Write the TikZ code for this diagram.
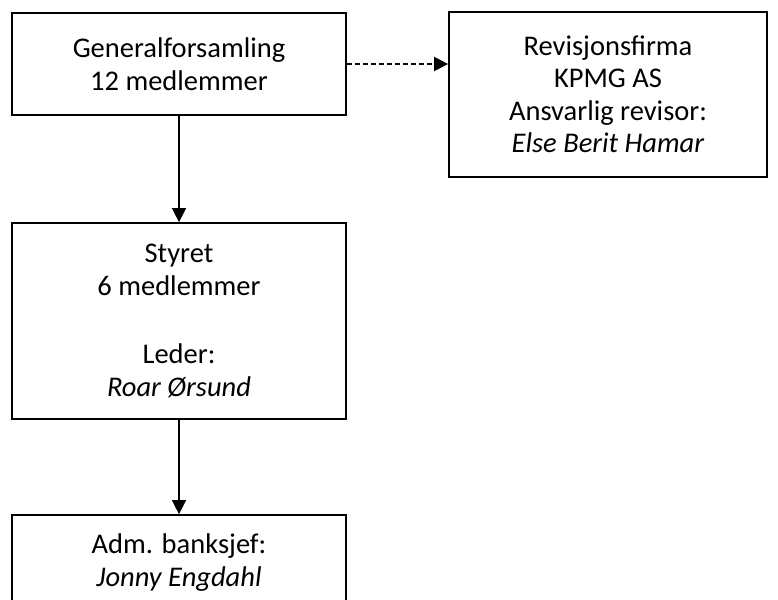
\documentclass[tikz,border=0pt]{standalone}
\usepackage{fontspec}
\setmainfont{Carlito}
\usetikzlibrary{arrows.meta}
\begin{document}
\begin{tikzpicture}[x=1pt,y=-1pt,
  box/.style={draw=black,line width=1.7pt,fill=white,align=center,inner sep=0pt,
    font=\fontsize{28.5}{32.5}\selectfont},
  conn/.style={line width=1.4pt,-{Triangle[length=14pt,width=14pt]}}]
\useasboundingbox (0,0) rectangle (778,599);
\node[box,minimum width=334pt,minimum height=102pt] (gen) at (179,64)
  {Generalforsamling\\12 medlemmer};
\node[box,minimum width=318pt,minimum height=165pt] (rev) at (608,94.5)
  {Revisjonsfirma\\KPMG AS\\Ansvarlig revisor:\\\textit{Else Berit Hamar}};
\node[box,minimum width=334pt,minimum height=196pt] (sty) at (179,321)
  {Styret\\6 medlemmer\\[36pt]Leder:\\\textit{Roar Ørsund}};
\node[box,minimum width=334pt,minimum height=95pt] (adm) at (179,562.5)
  {Adm. banksjef:\\\textit{Jonny Engdahl}};
\draw[conn] (gen) -- (sty);
\draw[conn] (sty) -- (adm);
\draw[conn,dash pattern=on 5pt off 3pt] (gen.east) -- (rev.west |- gen.east);
\end{tikzpicture}
\end{document}
